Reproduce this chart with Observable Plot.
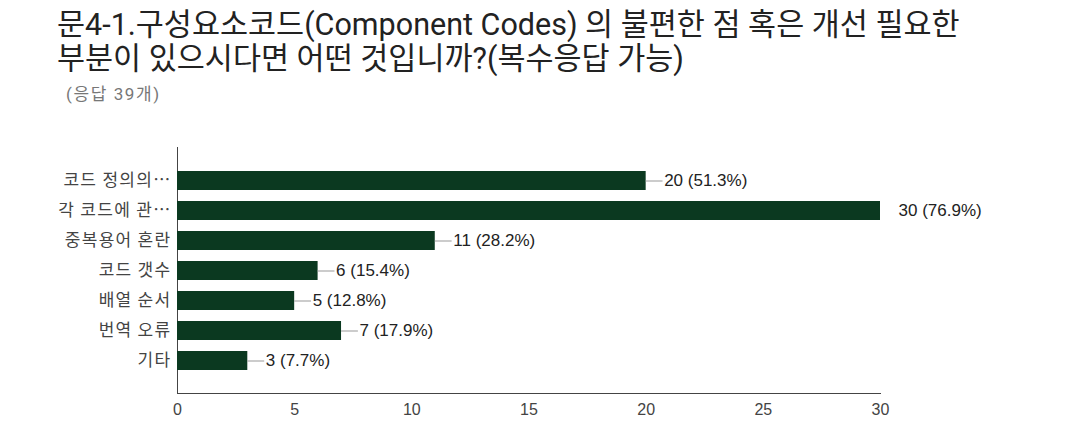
<!DOCTYPE html>
<html>
<head>
<meta charset="utf-8">
<script src="https://cdn.jsdelivr.net/npm/d3@7"></script>
<script src="https://cdn.jsdelivr.net/npm/@observablehq/plot@0.6"></script>
<style>
  html, body { margin: 0; padding: 0; background: #fff; }
  #wrap { width: 1065px; height: 435px; position: relative; overflow: hidden; }
  #title { position: absolute; left: 57px; top: 8px; font-family: Roboto, "Noto Sans CJK KR", sans-serif; font-size: 30.5px; line-height: 34px; color: #222; white-space: nowrap; }
  #subtitle { position: absolute; left: 66px; top: 80px; font-family: Roboto, "Noto Sans CJK KR", sans-serif; font-size: 17px; letter-spacing: 1.6px; color: #777; }
  #chart { position: absolute; left: 0; top: 105px; }
</style>
</head>
<body>
<div id="wrap">
  <div id="title">문4-1.구성요소코드(Component Codes) 의 불편한 점 혹은 개선 필요한<br>부분이 있으시다면 어떤 것입니까?(복수응답 가능)</div>
  <div id="subtitle">(응답 39개)</div>
  <div id="chart"></div>
</div>
<script>
const categories = ["코드 정의의…", "각 코드에 관…", "중복용어 혼란", "코드 갯수", "배열 순서", "번역 오류", "기타"];
const counts = [20, 30, 11, 6, 5, 7, 3];
const percents = ["51.3%", "76.9%", "28.2%", "15.4%", "12.8%", "17.9%", "7.7%"];
const xTicks = [0, 5, 10, 15, 20, 25, 30];

const data = categories.map((c, i) => ({cat: c, count: counts[i], pct: percents[i]}));

const plot = Plot.plot({
  width: 1065,
  height: 330,
  marginTop: 42,
  marginBottom: 42,
  marginLeft: 177,
  marginRight: 185,
  style: {color: "#444", fontFamily: "'Liberation Sans', Arial, sans-serif", background: "#fff"},
  x: {domain: [0, 30], ticks: xTicks, tickSize: 0, tickPadding: 10, line: true, label: null},
  y: {domain: categories, tickSize: 0, tickPadding: 6, line: true, label: null, paddingInner: 0.38, paddingOuter: 0.7},
  marks: [
    Plot.barX(data, {x: "count", y: "cat", fill: "#0b3920"}),
    Plot.ruleY(data, {y: "cat", x1: "count", x2: d => d.count + 0.72, stroke: "#999", strokeWidth: 1, clip: true}),
    Plot.text(data, {x: "count", y: "cat", text: d => `${d.count} (${d.pct})`, dx: 18, textAnchor: "start", fill: "#222", fontSize: 17})
  ]
});

document.getElementById("chart").appendChild(plot);

d3.select(plot).selectAll("g[aria-label='x-axis tick label']").attr("font-size", 16);
d3.select(plot).selectAll("g[aria-label='y-axis tick label']").attr("font-size", 17).attr("letter-spacing", "1.3px").attr("font-family", "'Noto Sans CJK KR', sans-serif");
</script>
</body>
</html>
